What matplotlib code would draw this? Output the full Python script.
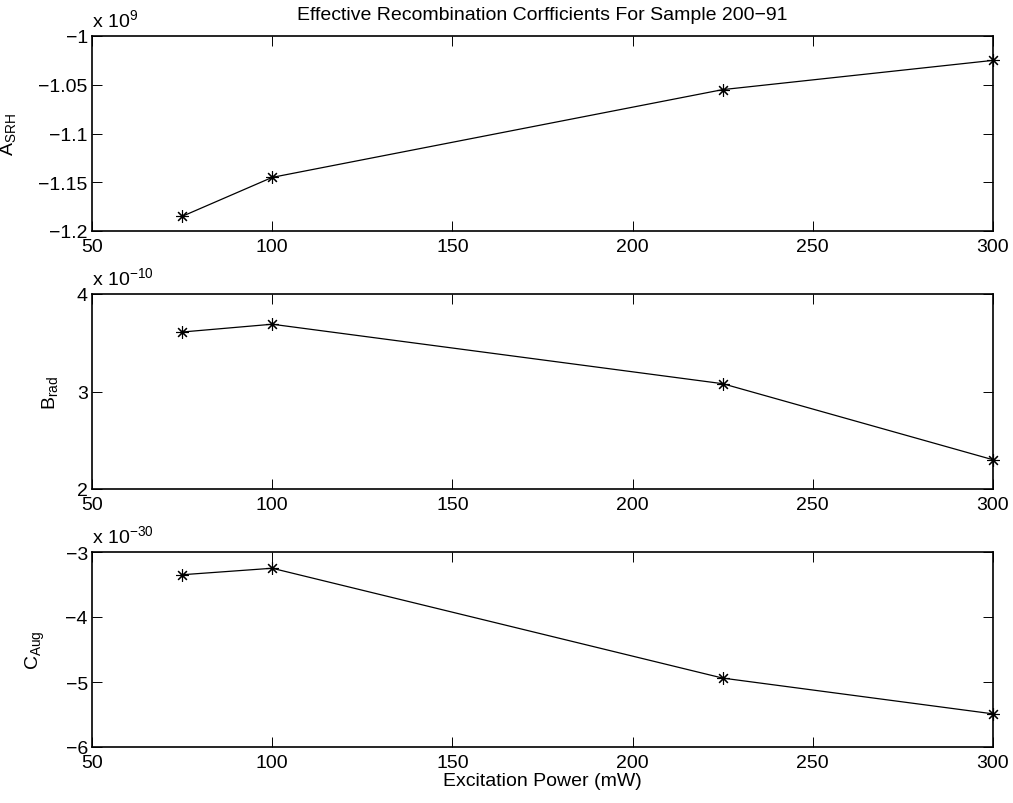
import matplotlib
matplotlib.use("Agg")
import matplotlib.pyplot as plt
from matplotlib.ticker import FuncFormatter, MultipleLocator

plt.rcParams['font.family'] = ['Liberation Sans', 'DejaVu Sans']
plt.rcParams['mathtext.default'] = 'regular'
plt.rcParams['font.size'] = 14

power = [75, 100, 225, 300]
a_srh = [-1.185e9, -1.145e9, -1.055e9, -1.025e9]
b_rad = [3.61e-10, 3.69e-10, 3.08e-10, 2.30e-10]
c_aug = [-3.35e-30, -3.25e-30, -4.94e-30, -5.49e-30]

title = "Effective Recombination Corfficients For Sample 200\u221291"
xlabel = "Excitation Power (mW)"
ylabels = ["A$_{SRH}$", "B$_{rad}$", "C$_{Aug}$"]
exps = [9, -10, -30]
ylims = [(-1.2e9, -1.0e9), (2e-10, 4e-10), (-6e-30, -3e-30)]
ysteps = [0.05e9, 1e-10, 1e-30]
series = [a_srh, b_rad, c_aug]

W, H = 1013, 804
fig = plt.figure(figsize=(W / 100, H / 100), dpi=100)
left, right = 92 / W, 993 / W
tops = [37, 295, 553]
h = 195
label_x = [-0.082, -0.036, -0.050]

axes = []
for i in range(3):
    bottom = 1 - (tops[i] + h) / H
    ax = fig.add_axes([left, bottom, right - left, h / H])
    axes.append(ax)
    ax.plot(power, series[i], color='black', linewidth=0.9,
            marker=(8, 2, 0), markersize=9, markeredgewidth=0.8, clip_on=False)
    ax.set_xlim(50, 300)
    ax.set_ylim(*ylims[i])
    ax.xaxis.set_major_locator(MultipleLocator(50))
    ax.yaxis.set_major_locator(MultipleLocator(ysteps[i]))
    scale = 10.0 ** exps[i]
    ax.yaxis.set_major_formatter(FuncFormatter(
        lambda v, p, s=scale: ("%g" % round(v / s, 6)).replace('-', '\u2212')))
    ax.tick_params(direction='in', top=True, right=True, length=7, width=0.7,
                   labelsize=14)
    ax.tick_params(axis='x', pad=5)
    ax.tick_params(axis='y', pad=3)
    for sp in ax.spines.values():
        sp.set_linewidth(1.2)
    exp_txt = "x 10$^{%d}$" % exps[i] if exps[i] > 0 else "x 10$^{\u2212%d}$" % (-exps[i])
    ax.text(0, 1.03, exp_txt, transform=ax.transAxes, ha='left', va='bottom', fontsize=14)
    ax.set_ylabel(ylabels[i], fontsize=14)
    ax.yaxis.set_label_coords(label_x[i], 0.5)

axes[0].set_title(title, fontsize=14, pad=12)
axes[2].set_xlabel(xlabel, fontsize=14, labelpad=1)

fig.savefig("out.png", dpi=100)
